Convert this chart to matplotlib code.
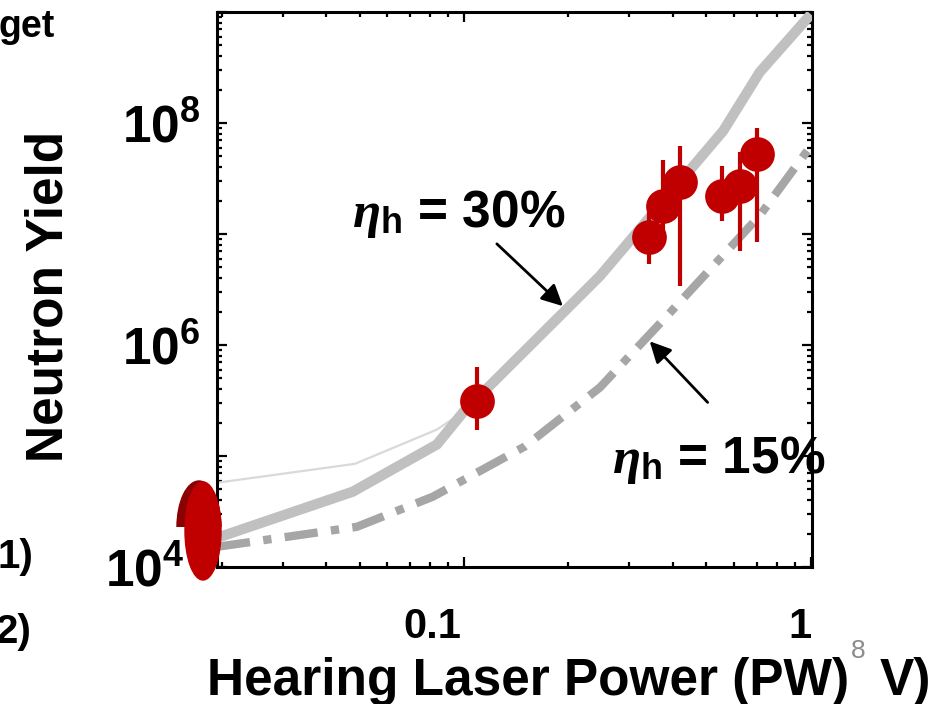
import numpy as np
import matplotlib
matplotlib.use('Agg')
import matplotlib.pyplot as plt
import matplotlib.transforms as mtransforms
from matplotlib.patches import Ellipse, Rectangle
from matplotlib.ticker import LogLocator, FuncFormatter, NullFormatter

plt.rcParams['font.family'] = ['Liberation Sans', 'DejaVu Sans']
plt.rcParams['font.weight'] = 'bold'
plt.rcParams['mathtext.fontset'] = 'custom'
plt.rcParams['mathtext.rm'] = 'Liberation Sans:bold'
plt.rcParams['mathtext.bf'] = 'Liberation Sans:bold'
plt.rcParams['mathtext.it'] = 'Liberation Serif:italic'

# simulation, eta_h = 30% (thick solid band)
power_30 = [0.0194, 0.0478, 0.0836, 0.1, 0.189, 0.247, 0.56, 0.713, 0.98]
yield_30 = [1.83e4, 4.77e4, 1.27e5, 2.52e5, 1.82e6, 4.19e6, 8.5e7, 2.86e8, 8.8e8]

# thin faint line, joins the thick one near 0.1 PW
power_thin = [0.0194, 0.0485, 0.0836, 0.1]
yield_thin = [5.74e4, 8.5e4, 1.73e5, 2.52e5]

# simulation, eta_h = 15% (dash-dot)
power_15 = [0.0194, 0.0491, 0.0814, 0.150, 0.247, 0.385, 0.713, 0.98]
yield_15 = [1.52e4, 2.30e4, 4.30e4, 1.22e5, 4.15e5, 1.82e6, 1.46e7, 5.65e7]

# measured shots
shot_power = [0.109, 0.343, 0.375, 0.419, 0.557, 0.624, 0.703]
shot_yield = [3.10e5, 9.4e6, 1.80e7, 2.97e7, 2.21e7, 2.73e7, 5.31e7]
shot_lo = [1.73e5, 5.4e6, 1.0e7, 3.4e6, 1.31e7, 7.05e6, 8.5e6]
shot_hi = [6.3e5, 1.87e7, 4.6e7, 6.27e7, 4.14e7, 5.53e7, 8.93e7]

red = '#c00000'

fig = plt.figure(figsize=(9.38, 7.04), dpi=100)
ax = fig.add_axes([217/938, 1-567/704, (812-217)/938, (567-12)/704])
ax.set_xscale('log')
ax.set_yscale('log')
ax.set_xlim(0.0194, 1.01)
ax.set_ylim(1e4, 1e9)

ax.plot(power_thin, yield_thin, color='#d9d9d9', lw=1.6, zorder=2)
ax.plot(power_30, yield_30, color='#c0c0c0', lw=7.4, solid_joinstyle='miter', zorder=3)
ax.plot(power_15, yield_15, color='#a6a6a6', lw=6, linestyle=(0, (4, 1.6, 1, 1.6)),
        dash_capstyle='butt', zorder=3)

yerr = [np.array(shot_yield) - np.array(shot_lo), np.array(shot_hi) - np.array(shot_yield)]
ax.errorbar(shot_power, shot_yield, yerr=yerr, fmt='none', ecolor=red, elinewidth=3, capsize=0, zorder=4)
ax.plot(shot_power, shot_yield, 'o', color=red, ms=25, mec='none', zorder=5)

# arrows + labels
ax.annotate('', xy=(0.193, 2.24e6), xytext=(0.1245, 8.15e6),
            arrowprops=dict(arrowstyle='-|>', color='black', lw=2, mutation_scale=32, shrinkA=0, shrinkB=0))
ax.annotate('', xy=(0.3436, 1.08e6), xytext=(0.505, 3.04e5),
            arrowprops=dict(arrowstyle='-|>', color='black', lw=2, mutation_scale=32, shrinkA=0, shrinkB=0))
ax.text(0.0476, 1.52e7, r'$\eta_{\mathbf{h}}$ = 30%', fontsize=37, ha='left', va='center')
ax.text(0.267, 9.27e4, r'$\eta_{\mathbf{h}}$ = 15%', fontsize=37, ha='left', va='center')

# axes styling
for s in ax.spines.values():
    s.set_linewidth(2.2)
ax.tick_params(which='both', direction='in', top=True, right=True, width=1.6)
ax.tick_params(which='major', length=7)
ax.tick_params(which='minor', length=3.6)
ax.yaxis.set_major_locator(LogLocator(base=10, numticks=20))
ax.yaxis.set_minor_locator(LogLocator(base=10, subs=np.arange(2, 10), numticks=20))
ax.yaxis.set_minor_formatter(NullFormatter())

def ylab(v, pos):
    e = int(round(np.log10(v)))
    return r'$\mathbf{10^{%d}}$' % e if e % 2 == 0 else ''

ax.yaxis.set_major_formatter(FuncFormatter(ylab))
ax.tick_params(axis='y', which='major', labelsize=37, pad=12)
fig.canvas.draw()
for t in ax.yaxis.get_major_ticks():
    if abs(t.get_loc() - 1e4) < 1:
        t.label1.set_transform(t.label1.get_transform() +
                               mtransforms.ScaledTranslation(-0.16, 0, fig.dpi_scale_trans))

ax.set_xticks([0.1, 1])
ax.set_xticklabels(['0.1', '1'])
ax.xaxis.set_minor_formatter(NullFormatter())
ax.tick_params(axis='x', which='major', labelsize=30, pad=29)
for lab, dx in zip(ax.get_xticklabels(), [-32, -11]):
    lab.set_transform(lab.get_transform() + mtransforms.ScaledTranslation(dx/100, 0, fig.dpi_scale_trans))

fig.text(49/938, 1-296/704, 'Neutron Yield', rotation=90, fontsize=37, ha='center', va='center')
fig.text(207/938, 1-695/704, 'Hearing Laser Power (PW)', fontsize=37, ha='left', va='baseline')

# leftovers from the slide
fig.text(-0.002, 1-27/704, 'get', fontsize=27, ha='left', va='center')
fig.text(33/938, 1-557/704, '1)', fontsize=29, ha='right', va='center')
fig.text(31/938, 1-632/704, '2)', fontsize=29, ha='right', va='center')
fig.text(858/938, 1-651/704, '8', fontsize=19, color='#8c8c8c', fontweight='normal', ha='center', va='center')
fig.text(880/938, 1-695/704, 'V)', fontsize=37, ha='left', va='baseline')

# red ellipse marker sitting on the corner
dark = Ellipse((199/938, 1-527/704), 44/938, 92/704, transform=fig.transFigure, color='#8b0000', zorder=6)
clip = Rectangle((0, 1-527/704), 1, 527/704, transform=fig.transFigure, visible=False)
fig.add_artist(clip)
fig.add_artist(dark)
dark.set_clip_path(clip)
fig.add_artist(Ellipse((203/938, 1-531/704), 36/938, 98/704, transform=fig.transFigure,
                       color=red, zorder=7))

fig.savefig('out.png', dpi=100)
